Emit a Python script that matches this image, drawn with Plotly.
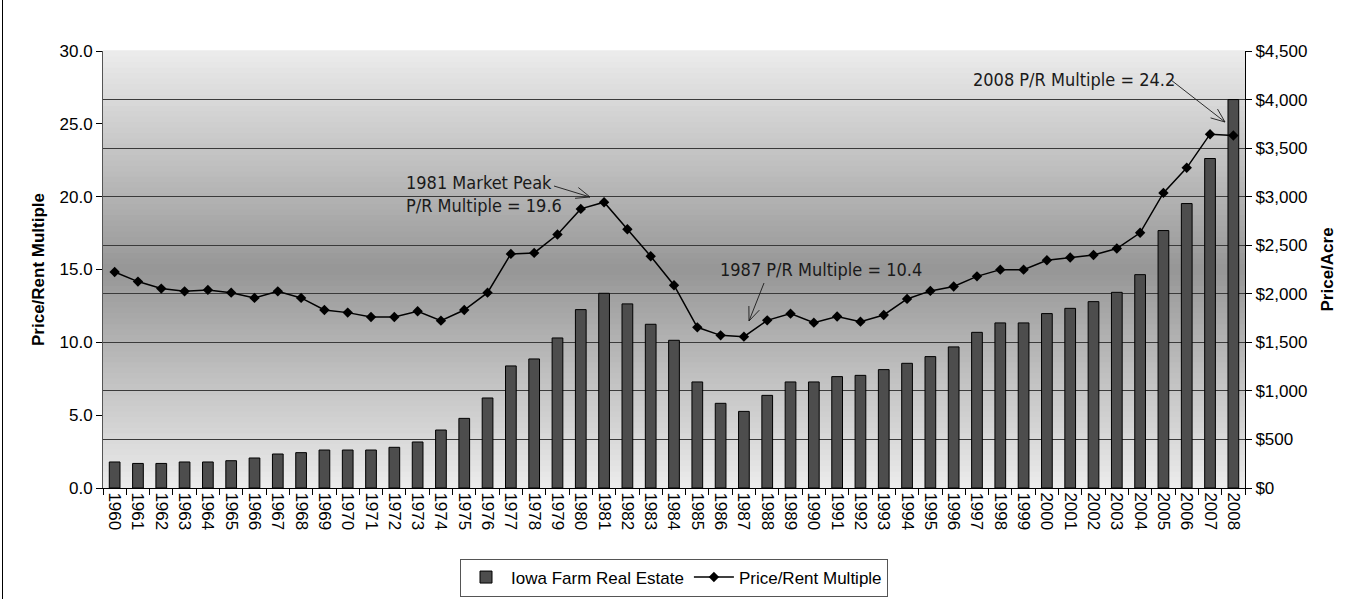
import math
import plotly.graph_objects as go

years = [str(y) for y in range(1960, 2009)]

price_per_acre = [268, 253, 253, 268, 268, 281, 309, 350, 364, 391,
                  391, 391, 419, 474, 597, 717, 927, 1257, 1329, 1545,
                  1837, 2005, 1896, 1686, 1521, 1092, 872, 789, 954, 1092,
                  1092, 1147, 1160, 1219, 1284, 1353, 1453, 1603, 1700, 1700,
                  1796, 1850, 1919, 2015, 2197, 2651, 2929, 3393, 4000]

pr_multiple = [14.83, 14.17, 13.69, 13.50, 13.60, 13.41, 13.05, 13.50, 13.05, 12.22,
               12.04, 11.74, 11.74, 12.13, 11.49, 12.22, 13.41, 16.07, 16.14, 17.40,
               19.16, 19.62, 17.76, 15.91, 13.92, 11.03, 10.48, 10.39, 11.51, 11.97,
               11.35, 11.77, 11.42, 11.88, 12.98, 13.53, 13.83, 14.53, 14.99, 14.99,
               15.63, 15.82, 16.00, 16.44, 17.52, 20.26, 21.98, 24.29, 24.20]

bar_name = "Iowa Farm Real Estate"
line_name = "Price/Rent Multiple"
left_title = "Price/Rent Multiple"
right_title = "Price/Acre"
note_1981 = "1981 Market Peak<br>P/R Multiple = 19.6"
note_1987 = "1987 P/R Multiple = 10.4"
note_2008 = "2008 P/R Multiple = 24.2"

W, H = 1352, 599
PL, PR, PT, PB = 103, 1245, 51, 488


def px2x(px):
    return (px - PL) / (PR - PL)


def py2y(py):
    return (PB - py) / (PB - PT)


fig = go.Figure()
fig.add_trace(go.Bar(
    x=years, y=price_per_acre, name=bar_name, yaxis="y",
    marker=dict(color="#4d4d4d", line=dict(color="#000000", width=1)),
    width=0.46,
))
fig.add_trace(go.Scatter(
    x=years, y=pr_multiple, name=line_name, yaxis="y2",
    mode="lines+markers",
    line=dict(color="#000000", width=1.5),
    marker=dict(symbol="diamond", size=8, color="#000000"),
))

shapes = []
# vertical gradient background (light - dark - light)
n = 80
for i in range(n):
    t = (i + 0.5) / n
    d = abs(t - 0.5) * 2
    c = int(round(150 + 86 * d))
    shapes.append(dict(type="rect", xref="paper", yref="paper",
                       x0=0, x1=1, y0=i / n, y1=(i + 1) / n + 0.002,
                       fillcolor=f"rgb({c},{c},{c})", line=dict(width=0),
                       layer="below"))

# left border of chart area
shapes.append(dict(type="line", xref="paper", yref="paper",
                   x0=px2x(2.5), x1=px2x(2.5), y0=py2y(0), y1=py2y(599),
                   line=dict(color="#000000", width=1)))


def arrow(tail, tip, length=15, half=22):
    tx, ty = tail
    hx, hy = tip
    ang = math.atan2(ty - hy, tx - hx)
    pts = []
    for s in (-1, 1):
        a = ang + s * math.radians(half)
        pts.append((hx + length * math.cos(a), hy + length * math.sin(a)))
    path = (f"M {px2x(tx)},{py2y(ty)} L {px2x(hx)},{py2y(hy)} "
            f"M {px2x(pts[0][0])},{py2y(pts[0][1])} L {px2x(hx)},{py2y(hy)} "
            f"L {px2x(pts[1][0])},{py2y(pts[1][1])}")
    return dict(type="path", xref="paper", yref="paper", path=path,
                line=dict(color="#1a1a1a", width=0.9))


shapes.append(arrow((554, 186), (590, 197)))
shapes.append(arrow((764, 283), (749, 321)))
shapes.append(arrow((1171, 80), (1225, 122)))

narrow = "Liberation Sans Narrow, Arial Narrow, DejaVu Sans Condensed, sans-serif"
nfont = dict(family=narrow, size=18, color="#1a1a1a")
annos = [
    dict(text=note_1981, xref="paper", yref="paper", x=px2x(404), y=py2y(194),
         xanchor="left", yanchor="middle", align="left", showarrow=False,
         font=nfont),
    dict(text=note_1987, xref="paper", yref="paper", x=px2x(718), y=py2y(269),
         xanchor="left", yanchor="middle", align="left", showarrow=False,
         font=nfont),
    dict(text=note_2008, xref="paper", yref="paper", x=px2x(971), y=py2y(79),
         xanchor="left", yanchor="middle", align="left", showarrow=False,
         font=nfont),
    dict(text=f"<b>{left_title}</b>", xref="paper", yref="paper",
         x=px2x(38.5), y=0.5, xanchor="center", yanchor="middle",
         textangle=-90, showarrow=False,
         font=dict(family="Liberation Sans, Arial, sans-serif", size=17, color="#000000")),
    dict(text=f"<b>{right_title}</b>", xref="paper", yref="paper",
         x=px2x(1327), y=0.5, xanchor="center", yanchor="middle",
         textangle=-90, showarrow=False,
         font=dict(family="Liberation Sans, Arial, sans-serif", size=17, color="#000000")),
]

tickfont = dict(family="Liberation Sans, Arial, sans-serif", size=17, color="#000000")

fig.update_layout(
    width=W, height=H, autosize=False,
    margin=dict(l=PL, r=W - PR, t=PT, b=H - PB, pad=0, autoexpand=False),
    paper_bgcolor="#ffffff", plot_bgcolor="rgba(0,0,0,0)",
    font=dict(family="Liberation Sans, Arial, sans-serif", size=17, color="#000000"),
    xaxis=dict(type="category", tickson="boundaries", ticks="outside", ticklen=6,
               tickcolor="#000000", tickangle=90, tickfont=tickfont,
               showline=True, linecolor="#000000", linewidth=1, automargin=False,
               showgrid=False, range=[-0.5, len(years) - 0.5]),
    yaxis=dict(side="right", range=[0, 4500], dtick=500, tickprefix="$",
               tickformat=",d", ticks="outside", ticklen=6, tickcolor="#000000",
               tickfont=tickfont, showline=True, linecolor="#000000", linewidth=1,
               automargin=False,
               showgrid=True, gridcolor="#3a3a3a", gridwidth=1, zeroline=False),
    yaxis2=dict(side="left", overlaying="y", range=[0, 30], dtick=5,
                tickformat=".1f", ticks="outside", ticklen=6, tickcolor="#000000",
                tickfont=tickfont, showline=True, linecolor="#555555", linewidth=1,
                automargin=False,
                showgrid=False, zeroline=False),
    barmode="overlay",
    showlegend=True,
    legend=dict(orientation="h", x=0.5, xanchor="center", y=py2y(577.5),
                yanchor="middle", bgcolor="#ffffff", bordercolor="#555555",
                borderwidth=1, font=dict(size=17), traceorder="normal",
                itemwidth=40),
    shapes=shapes,
    annotations=annos,
)

fig.write_html("out.html", config={"displayModeBar": False},
               post_script="document.body.style.margin='0';document.body.style.overflow='hidden';")
